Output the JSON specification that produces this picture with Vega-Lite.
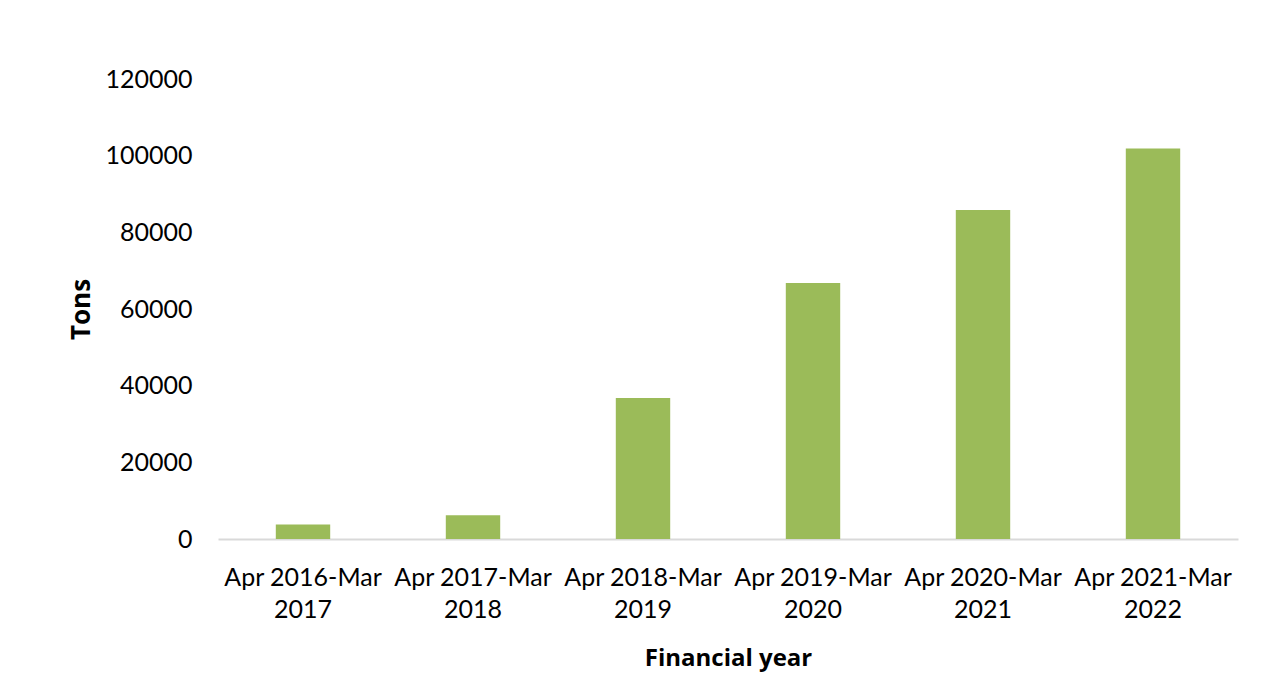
{
  "$schema": "https://vega.github.io/schema/vega-lite/v6.json",
  "width": 1020,
  "height": 460,
  "autosize": {"type": "none"},
  "padding": {"left": 218, "top": 79, "right": 30, "bottom": 136},
  "background": "white",
  "config": {"view": {"stroke": null}, "font": "Lato"},
  "data": {
    "values": [
      {"year": "Apr 2016-Mar 2017", "tons": 3800},
      {"year": "Apr 2017-Mar 2018", "tons": 6200},
      {"year": "Apr 2018-Mar 2019", "tons": 36800},
      {"year": "Apr 2019-Mar 2020", "tons": 66800},
      {"year": "Apr 2020-Mar 2021", "tons": 85800},
      {"year": "Apr 2021-Mar 2022", "tons": 101900}
    ]
  },
  "mark": {"type": "bar", "color": "#9BBB59"},
  "encoding": {
    "x": {
      "field": "year",
      "type": "nominal",
      "sort": null,
      "scale": {"paddingInner": 0.68, "paddingOuter": 0.34},
      "axis": {
        "title": "Financial year",
        "titleFont": "Open Sans",
        "titleFontSize": 24,
        "titleFontWeight": "bold",
        "titleColor": "#000000",
        "titlePadding": 24,
        "labelAngle": 0,
        "labelFont": "Lato",
        "labelFontSize": 25,
        "labelColor": "#000000",
        "labelLineHeight": 32,
        "labelPadding": 26,
        "labelExpr": "[slice(datum.value,0,12), slice(datum.value,13)]",
        "ticks": false,
        "domainColor": "#d9d9d9",
        "domainWidth": 2
      }
    },
    "y": {
      "field": "tons",
      "type": "quantitative",
      "scale": {"domain": [0, 120000]},
      "axis": {
        "title": "Tons",
        "titleFont": "Open Sans",
        "titleFontSize": 26,
        "titleFontWeight": "bold",
        "titleColor": "#000000",
        "titlePadding": 10,
        "values": [0, 20000, 40000, 60000, 80000, 100000, 120000],
        "format": "d",
        "labelFont": "Lato",
        "labelFontSize": 25,
        "labelColor": "#000000",
        "labelPadding": 26,
        "grid": false,
        "ticks": false,
        "domain": false
      }
    }
  }
}
